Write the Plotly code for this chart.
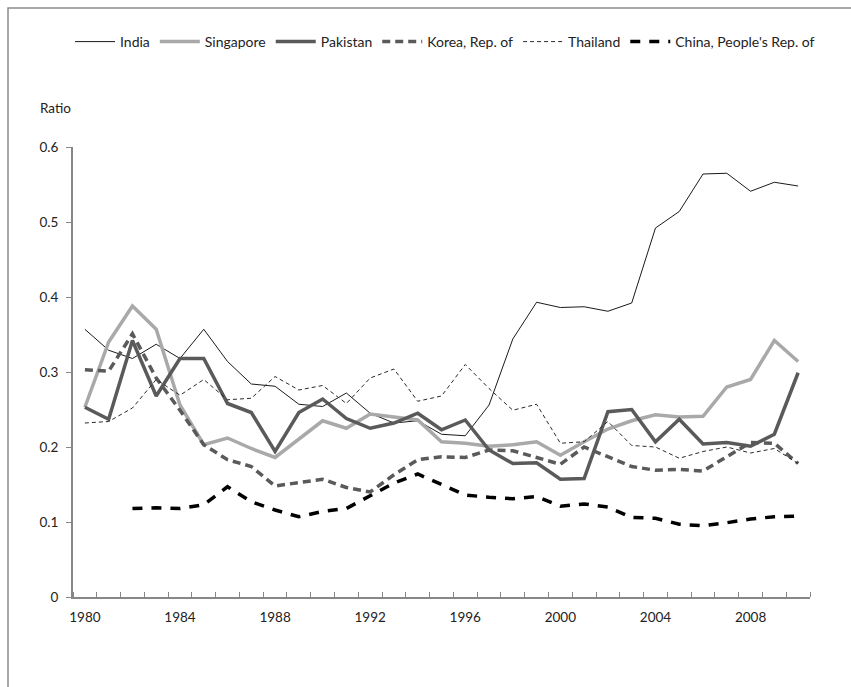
import plotly.graph_objects as go

years = list(range(1980, 2011))

india = [0.357, 0.329, 0.318, 0.337, 0.318, 0.357, 0.314, 0.284, 0.281, 0.257,
         0.254, 0.272, 0.245, 0.232, 0.235, 0.217, 0.215, 0.256, 0.344, 0.393,
         0.386, 0.387, 0.381, 0.392, 0.492, 0.514, 0.564, 0.565, 0.541, 0.553,
         0.548]
singapore = [0.253, 0.340, 0.388, 0.357, 0.256, 0.203, 0.212, 0.198, 0.186, 0.210,
             0.235, 0.225, 0.244, 0.240, 0.236, 0.207, 0.205, 0.201, 0.203, 0.207,
             0.189, 0.207, 0.224, 0.235, 0.243, 0.240, 0.241, 0.280, 0.290, 0.342,
             0.314]
pakistan = [0.253, 0.237, 0.342, 0.268, 0.318, 0.318, 0.258, 0.246, 0.194, 0.246,
            0.264, 0.238, 0.225, 0.232, 0.245, 0.223, 0.236, 0.196, 0.178, 0.179,
            0.157, 0.158, 0.247, 0.250, 0.207, 0.237, 0.204, 0.206, 0.201, 0.217,
            0.299]
korea = [0.303, 0.301, 0.351, 0.292, 0.249, 0.203, 0.183, 0.174, 0.148, 0.152,
         0.157, 0.146, 0.140, 0.163, 0.183, 0.187, 0.186, 0.196, 0.195, 0.186,
         0.177, 0.200, 0.187, 0.174, 0.169, 0.170, 0.168, 0.187, 0.206, 0.205,
         0.178]
thailand = [0.232, 0.234, 0.252, 0.290, 0.269, 0.290, 0.263, 0.265, 0.294, 0.276,
            0.282, 0.258, 0.292, 0.304, 0.261, 0.268, 0.310, 0.278, 0.249, 0.257,
            0.205, 0.207, 0.234, 0.202, 0.200, 0.185, 0.194, 0.200, 0.192, 0.198,
            0.178]
china = [None, None, 0.118, 0.119, 0.118, 0.123, 0.147, 0.127, 0.116, 0.107,
         0.114, 0.118, 0.135, 0.152, 0.164, 0.150, 0.136, 0.133, 0.131, 0.134,
         0.121, 0.124, 0.120, 0.106, 0.105, 0.097, 0.095, 0.099, 0.104, 0.107,
         0.108]

tick_years = [1980, 1984, 1988, 1992, 1996, 2000, 2004, 2008]

FONT = "Lato, Liberation Sans, Arial, sans-serif"
FSIZE = 13.5
LEGEND_SIZE = 14
TEXT = "#222222"
AXIS_GREY = "#878787"

series = [
    ("India", india, dict(color="#1a1a1a", width=1)),
    ("Singapore", singapore, dict(color="#a9a9a9", width=3.5)),
    ("Pakistan", pakistan, dict(color="#5a5a5a", width=3.5)),
    ("Korea, Rep. of", korea, dict(color="#5a5a5a", width=3.5, dash="8px,5px")),
    ("Thailand", thailand, dict(color="#2a2a2a", width=1, dash="4px,3px")),
    ("China, People's Rep. of", china, dict(color="#000000", width=3.5, dash="10px,9px")),
]

fig = go.Figure()
for name, vals, line in series:
    fig.add_trace(go.Scatter(x=years, y=vals, name=name, mode="lines",
                             line=line, connectgaps=False))

W, H = 851, 687
L, R, T, B = 73, 41, 147, 90
pw, ph = W - L - R, H - T - B

def px_x(x):
    return (x - L) / pw

def px_y(y):
    return (H - B - y) / ph

fig.update_layout(
    width=W, height=H,
    margin=dict(l=L, r=R, t=T, b=B),
    paper_bgcolor="white", plot_bgcolor="white",
    font=dict(family=FONT, size=FSIZE, color=TEXT),
    showlegend=True,
    legend=dict(orientation="h", x=px_x(70), y=px_y(26), xanchor="left", yanchor="top",
                font=dict(family=FONT, size=LEGEND_SIZE, color=TEXT),
                itemwidth=40, tracegroupgap=0, bgcolor="rgba(0,0,0,0)"),
    xaxis=dict(
        range=[1979.5, 2010.5], showgrid=False, zeroline=False,
        showline=True, linecolor=AXIS_GREY, linewidth=2,
        tickmode="array", tickvals=tick_years, ticktext=[str(y) for y in tick_years],
        ticks="", ticklabelstandoff=7,
        tickfont=dict(family=FONT, size=FSIZE, color=TEXT),
        minor=dict(ticks="inside", tick0=1979.5, dtick=1, ticklen=5,
                   tickcolor=AXIS_GREY, tickwidth=1, showgrid=False),
    ),
    yaxis=dict(
        range=[0, 0.6], showgrid=False, zeroline=False,
        showline=True, linecolor=AXIS_GREY, linewidth=2,
        tickmode="array", tickvals=[0, 0.1, 0.2, 0.3, 0.4, 0.5, 0.6],
        ticktext=["0", "0.1", "0.2", "0.3", "0.4", "0.5", "0.6"],
        ticks="outside", ticklen=5, tickcolor=AXIS_GREY, tickwidth=1,
        ticklabelstandoff=5,
        tickfont=dict(family=FONT, size=FSIZE, color=TEXT),
    ),
    annotations=[dict(text="Ratio", xref="paper", yref="paper",
                      x=px_x(38), y=px_y(108), xanchor="left", yanchor="middle",
                      showarrow=False, font=dict(family=FONT, size=FSIZE, color=TEXT))],
    shapes=[dict(type="rect", xref="paper", yref="paper",
                 x0=px_x(8), y0=px_y(H + 20), x1=px_x(W + 20), y1=px_y(8),
                 line=dict(color="#8c8c8c", width=1.5), fillcolor="rgba(0,0,0,0)",
                 layer="below")],
)

fig.write_html("out.html")
